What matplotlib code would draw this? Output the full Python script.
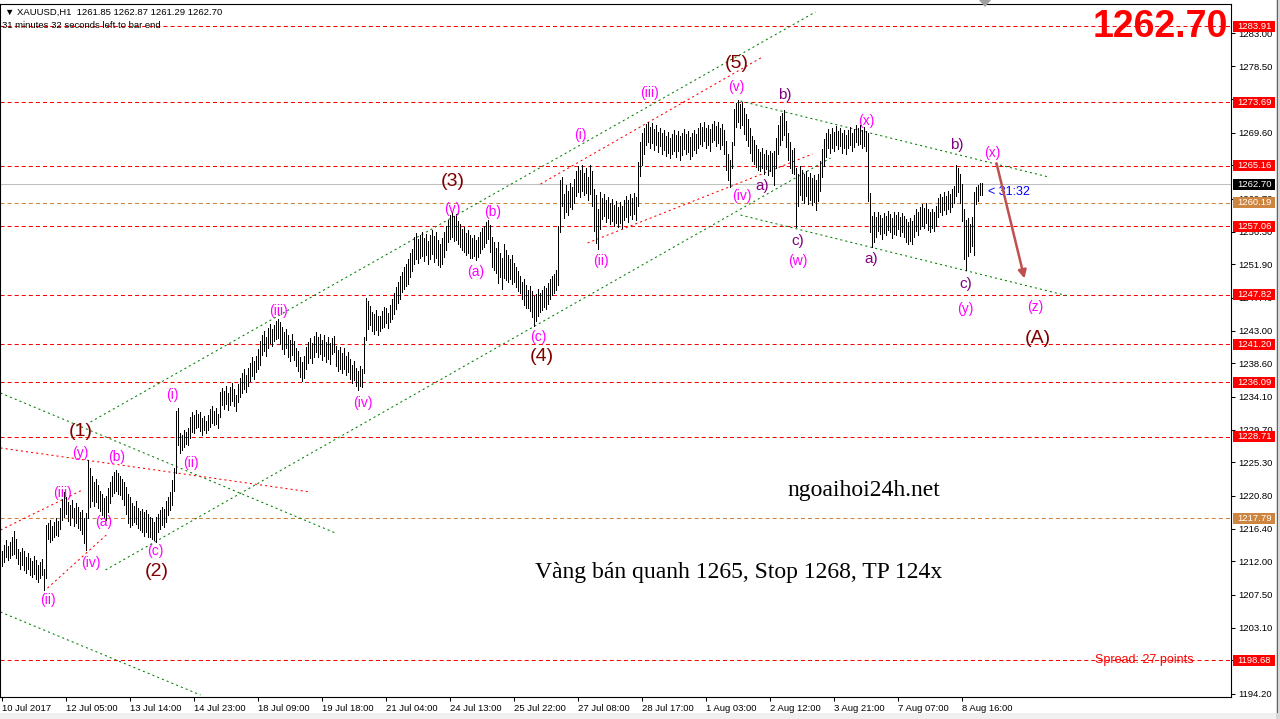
import matplotlib
matplotlib.use('Agg')
import matplotlib.pyplot as plt
from matplotlib.patches import Rectangle, Polygon
import numpy as np

plt.rcParams['font.family'] = ['Liberation Sans', 'DejaVu Sans']
plt.rcParams['lines.scale_dashes'] = False

W, H, DPI = 1280, 719, 100

# ---------------- data ----------------
header = '\u25BC XAUUSD,H1  1261.85 1262.87 1261.29 1262.70'
timer_text = '31 minutes 32 seconds left to bar end'
current_price = 1262.70

highs = [
 1213.4, 1214.2, 1214.8, 1214.0, 1214.6, 1215.2, 1216.1, 1215.0, 1213.6, 1213.2, 1213.8, 1213.4, 1212.6, 1213.1, 1212.4, 1212.0, 1212.7, 1212.2, 1211.5, 1211.9, 1212.3, 1211.0,
 1216.9, 1217.2, 1217.6, 1216.8, 1217.3, 1217.8, 1217.4, 1219.2, 1220.4, 1221.3, 1220.6, 1220.0, 1219.6, 1220.3, 1219.1, 1219.8, 1219.3, 1218.6, 1218.9, 1217.8, 1218.5, 1225.6,
 1224.5, 1223.4, 1222.6, 1223.1, 1222.2, 1221.5, 1221.1, 1220.5, 1220.8, 1221.9, 1222.7, 1223.4, 1224.0, 1224.3, 1223.9, 1223.5, 1223.0, 1222.6, 1222.0, 1221.1, 1220.6, 1219.8, 1219.4, 1220.1, 1219.2, 1218.7, 1219.0, 1218.6, 1218.9, 1218.4, 1218.0, 1217.8, 1217.3, 1217.9,
 1218.4, 1218.9, 1219.3, 1219.0, 1220.1, 1220.6, 1221.3, 1222.9, 1224.5, 1232.2, 1232.6,
 1229.2, 1229.0, 1229.6, 1229.4, 1229.9, 1231.4, 1232.1, 1231.6, 1232.3, 1231.8, 1232.0, 1231.2, 1231.5, 1230.9, 1231.6, 1232.5, 1232.9, 1232.2, 1232.6, 1231.8, 1234.8, 1235.3, 1234.9, 1235.6, 1234.6, 1235.4, 1236.0, 1235.1, 1234.4, 1235.8, 1236.6, 1237.3,
 1237.8, 1237.1, 1238.0, 1238.6, 1239.4, 1238.9, 1239.6, 1240.5, 1241.6, 1242.4, 1243.0, 1242.2, 1243.4, 1243.9, 1243.2, 1243.8, 1244.3, 1244.6, 1244.1, 1243.5, 1242.8, 1243.2, 1242.4, 1241.8, 1242.5, 1241.6, 1240.7, 1240.2, 1239.5, 1238.8,
 1239.6, 1240.8, 1241.5, 1242.0, 1241.4, 1242.3, 1242.8, 1242.1, 1242.6, 1241.8, 1242.4, 1241.5, 1242.1, 1241.3, 1242.0, 1242.3, 1241.0, 1240.4, 1240.8, 1240.0, 1240.6, 1239.6, 1240.1, 1239.2, 1238.4, 1238.9, 1238.0, 1237.6, 1238.3, 1237.9,
 1242.1, 1247.4, 1247.0, 1246.3, 1245.5, 1245.2, 1245.8, 1245.0, 1244.9, 1245.6, 1246.2, 1246.0, 1245.4, 1246.4, 1247.2, 1248.1, 1248.8, 1249.6, 1250.4, 1250.9, 1251.6, 1251.9, 1252.6, 1253.4, 1254.0,
 1255.6, 1256.1, 1255.3, 1255.9, 1256.2, 1255.5, 1256.0, 1255.1, 1255.8, 1256.5, 1255.7, 1256.3, 1255.2, 1254.6, 1255.4, 1256.2, 1257.1, 1257.9, 1258.6, 1258.9, 1258.4, 1258.7, 1257.8, 1257.3, 1256.6,
 1256.9, 1256.1, 1256.5, 1255.8, 1255.4, 1255.9, 1255.2, 1255.6, 1256.2, 1256.8, 1257.1, 1257.6, 1257.9, 1257.2, 1255.6, 1254.9, 1254.1, 1254.9, 1253.5, 1252.8, 1254.6, 1253.9, 1253.2, 1252.6, 1253.1,
 1252.1, 1251.5, 1251.0, 1250.3, 1249.6, 1249.9, 1249.2, 1248.5, 1249.0, 1248.3, 1247.6, 1247.9, 1248.6, 1248.0, 1248.5, 1249.0, 1248.7, 1249.4, 1249.9, 1250.3, 1250.6, 1251.1, 1257.1, 1263.3, 1263.6,
 1261.4, 1262.6, 1261.8, 1262.9, 1262.3, 1263.4, 1264.5, 1265.1, 1264.6, 1265.3, 1264.2, 1264.8, 1263.6, 1265.2, 1264.4, 1262.0, 1261.2, 1259.4, 1261.6, 1260.8,
 1261.4, 1260.5, 1261.0, 1260.2, 1260.7, 1259.9, 1260.4, 1259.6, 1260.3, 1259.8, 1260.6, 1261.1, 1260.5, 1261.3, 1260.8, 1261.5, 1261.0, 1265.6, 1268.4, 1269.6,
 1270.2, 1270.8, 1271.0, 1270.4, 1270.9, 1270.1, 1270.6, 1269.7, 1270.3, 1269.5, 1269.9, 1269.2, 1269.7, 1268.9, 1269.4, 1270.0, 1269.3, 1269.8, 1269.1, 1269.6, 1270.1, 1269.4, 1269.8,
 1269.0, 1269.5, 1270.0, 1269.4, 1270.3, 1270.9, 1270.4, 1271.0, 1270.2, 1270.7, 1270.1, 1270.8, 1271.2, 1270.5, 1271.0, 1270.3, 1270.8, 1269.9, 1268.5, 1266.8, 1265.9, 1268.4,
 1272.8, 1273.6, 1274.0, 1273.4, 1273.7, 1272.9, 1272.1, 1271.4, 1270.2, 1269.1, 1268.6, 1267.9, 1267.4, 1267.0, 1267.6, 1266.8, 1267.3, 1266.6, 1267.2, 1266.9, 1267.1, 1268.9,
 1270.6, 1271.8, 1272.3, 1272.7, 1271.2, 1269.6, 1268.4, 1267.3, 1267.6, 1264.8, 1264.0, 1265.1, 1264.6, 1264.0, 1264.5, 1263.7, 1264.2, 1263.5, 1263.9, 1263.3, 1264.0, 1265.8, 1267.4,
 1268.7, 1269.6, 1270.1, 1269.4, 1270.3, 1269.7, 1270.5, 1269.8, 1270.2, 1269.5, 1270.0, 1269.3, 1269.9, 1270.4, 1269.6, 1270.1, 1270.6, 1270.2, 1270.7, 1270.0, 1270.4, 1269.8, 1269.6, 1261.5, 1258.4,
 1258.9, 1258.3, 1259.0, 1258.6, 1258.1, 1258.8, 1258.4, 1259.1, 1258.7, 1258.2, 1258.9, 1258.5, 1259.0, 1258.3, 1258.8, 1258.4, 1258.0, 1257.6, 1258.2, 1257.8, 1258.6, 1259.3, 1259.0, 1259.6, 1260.0, 1259.5, 1260.2, 1259.4,
 1258.9, 1259.3, 1259.0, 1259.7, 1260.8, 1261.4, 1260.9, 1261.6, 1261.1, 1261.8, 1261.3, 1262.0, 1262.4, 1265.3, 1264.8, 1264.1, 1262.7, 1259.4, 1257.9, 1258.2, 1257.3, 1258.3, 1261.6, 1262.3, 1262.6, 1262.9, 1262.87,
]

lows = [
 1211.4, 1211.9, 1212.6, 1212.2, 1212.5, 1212.9, 1213.0, 1212.4, 1211.6, 1211.0, 1211.5, 1210.8, 1210.4, 1210.9, 1210.2, 1209.9, 1210.3, 1209.6, 1209.2, 1209.7, 1210.1, 1208.1,
 1209.8, 1215.0, 1214.6, 1214.9, 1215.2, 1215.6, 1215.4, 1216.3, 1217.6, 1218.0, 1218.3, 1217.4, 1216.9, 1218.0, 1216.8, 1217.2, 1216.5, 1216.2, 1215.7, 1214.4, 1213.5, 1217.8,
 1219.3, 1220.1, 1219.4, 1220.0, 1219.2, 1218.7, 1218.2, 1217.8, 1217.5, 1218.6, 1219.9, 1220.8, 1221.2, 1221.5, 1221.0, 1220.9, 1220.4, 1219.6, 1218.3, 1217.2, 1216.6, 1216.9, 1217.3, 1217.0, 1216.5, 1216.2, 1216.0, 1215.4, 1215.9, 1215.2, 1215.3, 1215.0, 1214.9, 1214.6,
 1215.9, 1216.4, 1216.9, 1216.6, 1217.3, 1218.2, 1218.9, 1219.6, 1221.4, 1223.9, 1227.6,
 1226.6, 1226.9, 1227.4, 1227.8, 1227.6, 1228.6, 1229.4, 1229.2, 1229.9, 1230.0, 1229.5, 1229.0, 1229.7, 1229.2, 1229.6, 1230.0, 1230.6, 1230.3, 1230.5, 1229.9, 1231.4, 1233.0, 1232.5, 1233.2, 1232.4, 1233.0, 1233.6, 1232.9, 1232.2, 1233.4, 1234.1, 1234.6,
 1235.2, 1234.8, 1235.6, 1236.2, 1236.9, 1236.5, 1237.4, 1237.8, 1238.4, 1239.7, 1240.2, 1239.6, 1240.6, 1241.3, 1240.9, 1241.6, 1241.9, 1242.0, 1241.2, 1240.5, 1239.8, 1240.6, 1239.4, 1238.9, 1239.7, 1239.0, 1238.2, 1237.6, 1236.8, 1236.2,
 1236.6, 1237.9, 1238.6, 1239.3, 1238.7, 1239.5, 1240.1, 1239.4, 1239.8, 1239.0, 1239.6, 1238.8, 1239.2, 1238.5, 1239.9, 1240.1, 1238.3, 1237.6, 1237.8, 1237.3, 1237.9, 1237.0, 1237.4, 1236.5, 1235.9, 1236.3, 1235.5, 1235.0, 1235.6, 1235.4,
 1237.3, 1241.8, 1243.2, 1243.8, 1243.0, 1242.6, 1243.1, 1242.4, 1242.9, 1243.3, 1243.5, 1244.0, 1243.4, 1244.1, 1244.6, 1245.3, 1245.9, 1246.7, 1247.2, 1248.2, 1248.6, 1249.0, 1249.3, 1250.2, 1251.0,
 1251.9, 1252.6, 1252.1, 1252.8, 1253.0, 1252.4, 1253.1, 1252.0, 1252.6, 1253.3, 1252.2, 1252.7, 1251.8, 1251.6, 1251.9, 1252.9, 1253.8, 1254.9, 1255.3, 1255.6, 1255.0, 1255.2, 1254.6, 1254.2, 1253.8,
 1253.6, 1253.1, 1253.5, 1252.8, 1252.7, 1253.0, 1252.5, 1252.9, 1253.4, 1254.0, 1254.3, 1254.8, 1255.3, 1253.6, 1251.6, 1251.2, 1250.7, 1249.4, 1250.2, 1248.6, 1250.1, 1249.8, 1249.5, 1250.0, 1249.3,
 1249.5, 1248.9, 1248.3, 1248.0, 1247.2, 1246.5, 1246.1, 1246.0, 1245.6, 1244.8, 1243.6, 1244.3, 1245.0, 1245.5, 1245.8, 1246.2, 1245.9, 1246.6, 1247.2, 1247.8, 1248.0, 1248.5, 1249.2, 1256.3, 1259.8,
 1258.2, 1259.0, 1258.6, 1259.6, 1259.4, 1260.2, 1261.1, 1261.6, 1260.9, 1261.8, 1261.2, 1261.5, 1260.6, 1261.4, 1259.8, 1256.4, 1254.8, 1254.0, 1256.6, 1258.0,
 1258.4, 1257.6, 1258.1, 1257.3, 1257.8, 1257.0, 1257.5, 1256.9, 1257.4, 1256.8, 1257.9, 1258.3, 1257.6, 1258.5, 1258.0, 1258.7, 1257.9, 1259.8, 1263.8, 1265.3,
 1266.8, 1267.9, 1268.4, 1267.6, 1268.2, 1267.3, 1267.9, 1267.0, 1267.8, 1266.8, 1267.3, 1266.5, 1266.9, 1266.2, 1266.7, 1267.2, 1266.4, 1267.1, 1266.0, 1266.6, 1267.4, 1266.8, 1267.0,
 1266.1, 1266.5, 1267.3, 1266.9, 1267.6, 1268.1, 1267.8, 1268.5, 1267.6, 1268.0, 1267.2, 1268.3, 1268.6, 1267.8, 1268.2, 1267.4, 1267.9, 1266.8, 1264.6, 1263.2, 1262.3, 1264.8,
 1268.0, 1270.4, 1271.0, 1270.2, 1270.6, 1269.4, 1268.6, 1267.8, 1266.9, 1265.8, 1265.4, 1265.0, 1264.6, 1264.4, 1264.9, 1264.1, 1264.7, 1263.9, 1264.5, 1263.8, 1262.6, 1264.9,
 1266.8, 1267.9, 1268.6, 1269.3, 1267.7, 1265.9, 1264.9, 1264.2, 1264.0, 1256.9, 1259.8, 1261.2, 1260.6, 1260.2, 1261.1, 1260.0, 1260.5, 1259.9, 1260.3, 1259.2, 1260.4, 1261.8, 1263.6,
 1265.1, 1266.4, 1267.5, 1266.9, 1267.6, 1267.2, 1268.0, 1267.4, 1267.8, 1266.9, 1267.6, 1266.8, 1267.5, 1268.0, 1267.2, 1267.7, 1268.3, 1267.9, 1268.1, 1267.5, 1267.8, 1267.2, 1260.4, 1256.2, 1254.2,
 1254.9, 1255.6, 1256.4, 1256.0, 1255.3, 1256.1, 1255.8, 1256.5, 1256.2, 1255.4, 1256.0, 1255.9, 1256.6, 1255.7, 1256.3, 1255.6, 1254.9, 1254.6, 1255.1, 1254.7, 1255.6, 1256.4, 1255.8, 1256.6, 1257.1, 1256.8, 1257.5, 1256.5,
 1256.2, 1256.8, 1256.4, 1257.0, 1258.3, 1259.0, 1258.6, 1259.2, 1258.7, 1259.3, 1258.9, 1259.6, 1260.2, 1261.1, 1261.6, 1260.2, 1257.8, 1252.6, 1251.1, 1253.0, 1253.6, 1254.4, 1253.1, 1260.0, 1260.4, 1261.2, 1261.29,
]

date_labels = ['10 Jul 2017', '12 Jul 05:00', '13 Jul 14:00', '14 Jul 23:00', '18 Jul 09:00',
               '19 Jul 18:00', '21 Jul 04:00', '24 Jul 13:00', '25 Jul 22:00', '27 Jul 08:00',
               '28 Jul 17:00', '1 Aug 03:00', '2 Aug 12:00', '3 Aug 21:00', '7 Aug 07:00', '8 Aug 16:00']
date_tick_bars = [0, 32, 64, 96, 128, 160, 192, 224, 256, 288, 320, 352, 384, 416, 448, 480]

price_ticks = [1283.00, 1278.50, 1274.10, 1269.60, 1265.20, 1260.70, 1256.30, 1251.90, 1247.40,
               1243.00, 1238.60, 1234.10, 1229.70, 1225.30, 1220.80, 1216.40, 1212.00, 1207.50,
               1203.10, 1198.70, 1194.20]

red_levels = [1283.91, 1273.69, 1265.16, 1257.06, 1247.82, 1241.20, 1236.09, 1228.71, 1198.68]
tan_levels = [1260.19, 1217.79]

green_lines = [((44.5, 1230.72), (407.0, 1285.83)),
               ((52.0, 1210.83), (414.5, 1266.20)),
               ((-0.5, 1234.62), (167.0, 1215.80)),
               ((-0.5, 1205.18), (99.5, 1194.03)),
               ((369.5, 1273.86), (523.5, 1263.65)),
               ((369.5, 1258.54), (533.5, 1247.65))]
red_dot_lines = [((-0.5, 1227.23), (154.5, 1221.31)),
                 ((-0.5, 1216.20), (40.5, 1221.60)),
                 ((23.0, 1208.40), (53.5, 1215.80)),
                 ((269.5, 1262.71), (380.5, 1279.78)),
                 ((293.0, 1254.78), (405.5, 1266.74))]

magenta_labels = [('(ii)', 23.0, 1206.8), ('(iii)', 30.5, 1221.2), ('(y)', 39.5, 1226.55),
                  ('(iv)', 44.5, 1211.8), ('(a)', 51.0, 1217.3), ('(b)', 57.5, 1226.0),
                  ('(c)', 77.0, 1213.4), ('(i)', 85.5, 1234.35), ('(ii)', 94.5, 1225.2),
                  ('(iii)', 138.5, 1245.6), ('(iv)', 180.5, 1233.3), ('(v)', 225.5, 1259.35),
                  ('(a)', 237.0, 1250.9), ('(b)', 245.5, 1258.95), ('(c)', 268.5, 1242.1),
                  ('(i)', 289.5, 1269.3), ('(ii)', 299.5, 1252.4), ('(iii)', 324.0, 1274.9),
                  ('(v)', 367.5, 1275.75), ('(iv)', 370.0, 1261.1), ('(w)', 398.0, 1252.4),
                  ('(x)', 432.5, 1271.2), ('(x)', 495.5, 1266.9), ('(y)', 482.0, 1245.9),
                  ('(z)', 517.0, 1246.2)]
degree_labels = [('(1)', 39.5, 1229.4), ('(2)', 77.5, 1210.6), ('(3)', 225.5, 1263.1),
                 ('(4)', 270.0, 1239.5), ('(5)', 367.5, 1278.85), ('(A)', 518.0, 1242.0)]
purple_labels = [('a)', 380.5, 1262.45), ('b)', 391.5, 1274.65), ('c)', 398.0, 1255.05),
                 ('a)', 435.0, 1252.6), ('b)', 477.5, 1267.95), ('c)', 482.0, 1249.3)]

arrow_start = (497.5, 1265.5)
arrow_end = (511.5, 1250.0)

# ---------------- drawing ----------------
fig = plt.figure(figsize=(W / DPI, H / DPI), dpi=DPI)
fig.patch.set_facecolor('white')
ax = fig.add_axes([0, (H - 697) / H, 1231 / W, 693 / H])
ax.set_facecolor('white')
ax.set_xlim(-0.75, 614.75)
ax.set_ylim(1193.76, 1286.90)
for s in ax.spines.values():
    s.set_linewidth(0.8)
    s.set_color('black')

n = min(len(highs), len(lows))
idx = np.arange(n)
ax.vlines(idx, np.array(lows[:n]), np.array(highs[:n]), colors='black',
          linewidth=0.72, antialiased=False, zorder=3)

# horizontal levels
for lv in red_levels:
    ax.axhline(lv, color='#FF0000', lw=0.75, dashes=(2.9, 2.2), zorder=2)
for lv in tan_levels:
    ax.axhline(lv, color='#CD853F', lw=0.75, dashes=(2.9, 2.2), zorder=2)
ax.axhline(current_price, color='#C0C0C0', lw=0.75, zorder=1)

# trend lines
for (p0, p1) in green_lines:
    ax.plot([p0[0], p1[0]], [p0[1], p1[1]], color='#008000', lw=0.75,
            dashes=(1.5, 2.2), zorder=2)
for (p0, p1) in red_dot_lines:
    ax.plot([p0[0], p1[0]], [p0[1], p1[1]], color='#FF0000', lw=0.75,
            dashes=(1.5, 2.2), zorder=2)

# wave labels
for s, x, y in magenta_labels:
    ax.text(x, y, s, color='#FF00FF', fontsize=10, ha='center', va='center', zorder=6)
for s, x, y in degree_labels:
    ax.text(x, y, s, color='#800000', fontsize=14, ha='center', va='center', zorder=6)
for s, x, y in purple_labels:
    ax.text(x, y, s, color='#800080', fontsize=11, ha='center', va='center', zorder=6)

# arrow
ax.annotate('', xy=arrow_end, xytext=arrow_start,
            arrowprops=dict(arrowstyle='-|>', color='#C0504D', lw=1.8,
                            mutation_scale=12, shrinkA=0, shrinkB=0), zorder=7)

# timer near price
ax.text(493.25, 1261.6, '< 31:32', color='#0000FF', fontsize=9, ha='left', va='center', zorder=6)

# watermark texts
ax.text(431.3, 1221.45, 'ngoaihoi24h.net', family=['Liberation Serif', 'DejaVu Serif'],
        fontsize=17, ha='center', va='center', color='black', zorder=6)
ax.text(368.8, 1210.56, 'Vàng bán quanh 1265, Stop 1268, TP 124x',
        family=['Liberation Serif', 'DejaVu Serif'], fontsize=17, ha='center', va='center',
        color='black', zorder=6)
ax.text(546.75, 1198.75, 'Spread: 27 points', color='#FF0000', fontsize=9,
        ha='left', va='center', zorder=6)

# axes ticks
ax.yaxis.tick_right()
ax.set_yticks(price_ticks)
ax.set_yticklabels(['%.2f' % t for t in price_ticks])
ax.tick_params(axis='y', direction='out', length=3, width=0.75, pad=2, labelsize=6.8)
ax.set_xticks(date_tick_bars)
ax.set_xticklabels(date_labels, ha='left')
ax.tick_params(axis='x', direction='out', length=3, width=0.75, pad=2, labelsize=6.8)

# price label boxes on right axis
ytr = ax.get_yaxis_transform()
box_h = 11 / 7.44


def price_box(level, face, text_color='white'):
    ax.add_patch(Rectangle((1233 / 1231, level - box_h / 2), 42 / 1231, box_h,
                           transform=ytr, facecolor=face, edgecolor='none',
                           clip_on=False, zorder=10))
    ax.text(1237 / 1231, level, '%.2f' % level, transform=ytr, color=text_color,
            fontsize=6.8, ha='left', va='center', clip_on=False, zorder=11)


for lv in red_levels:
    price_box(lv, '#FF0000')
for lv in tan_levels:
    price_box(lv, '#CD853F')
price_box(current_price, 'black')

# header texts
fig.text(5 / W, 1 - 12 / H, header, fontsize=6.8, ha='left', va='center', color='black')
fig.text(2 / W, 1 - 26 / H, timer_text, fontsize=6.8, ha='left', va='center', color='black')
fig.text(1228 / W, 1 - 27 / H, '%.2f' % current_price, fontsize=27, fontweight='bold',
         ha='right', va='center', color='#FF0000')

# window frame decorations
fig.patches.append(Rectangle((0, 0), 1, 6 / H, transform=fig.transFigure,
                             facecolor='#F0F0F0', edgecolor='none', zorder=0))
fig.patches.append(Rectangle((1276 / W, 0), 4 / W, 1, transform=fig.transFigure,
                             facecolor='#D8D8D8', edgecolor='none', zorder=0))
fig.patches.append(Rectangle((1276.5 / W, 6 / H), 1.2 / W, 1 - 6 / H, transform=fig.transFigure,
                             facecolor='#2A6CC8', edgecolor='none', zorder=0))
fig.patches.append(Polygon([(979 / W, 1.0), (991 / W, 1.0), (985 / W, 1 - 7 / H)],
                           closed=True, transform=fig.transFigure,
                           facecolor='#A0A0A0', edgecolor='none', zorder=5))

fig.savefig('out.png', dpi=DPI)
